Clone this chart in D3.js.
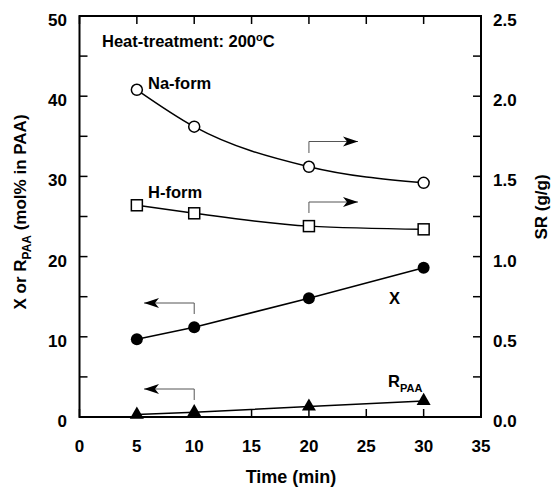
<!DOCTYPE html>
<html><head><meta charset="utf-8">
<script src="https://cdn.jsdelivr.net/npm/d3@7"></script>
<style>body{margin:0;background:#fff}text{font-family:Arial,"Liberation Sans",sans-serif;font-weight:bold;fill:#000}</style>
</head><body><svg id="c" width="556" height="487"></svg>
<script>
const time = [5, 10, 20, 30];
const naFormSR = [2.04, 1.81, 1.56, 1.46];
const hFormSR = [1.32, 1.27, 1.19, 1.17];
const xValues = [9.7, 11.2, 14.8, 18.6];
const rPAA = [0.3, 0.6, 1.3, 2.0];
const xTicks = [0, 5, 10, 15, 20, 25, 30, 35];
const yLeftTicks = [0, 10, 20, 30, 40, 50];
const yRightTicks = [0, 0.5, 1.0, 1.5, 2.0, 2.5];

const svg = d3.select("#c");
const L = 79.5, R = 481, T = 16, B = 417;
const x = d3.scaleLinear().domain([0, 35]).range([L, R]);
const yL = d3.scaleLinear().domain([0, 50]).range([B, T]);
const yR = d3.scaleLinear().domain([0, 2.5]).range([B, T]);

// ticks (inside)
const tl = 8;
const g = svg.append("g").attr("stroke", "#000").attr("stroke-width", 1.5);
d3.range(0, 35.1, 5).forEach(v => {
  g.append("line").attr("x1", x(v)).attr("x2", x(v)).attr("y1", B).attr("y2", B - tl);
  g.append("line").attr("x1", x(v)).attr("x2", x(v)).attr("y1", T).attr("y2", T + tl);
});
d3.range(0, 50.1, 5).forEach(v => {
  g.append("line").attr("x1", L).attr("x2", L + tl).attr("y1", yL(v)).attr("y2", yL(v));
});
d3.range(0, 2.51, 0.25).forEach(v => {
  g.append("line").attr("x1", R).attr("x2", R - tl).attr("y1", yR(v)).attr("y2", yR(v));
});
svg.append("rect").attr("x", L).attr("y", T).attr("width", R - L).attr("height", B - T)
  .attr("fill", "none").attr("stroke", "#000").attr("stroke-width", 2);

// tick labels
const fs = 17;
svg.selectAll(".xt").data(xTicks).join("text").attr("x", d => x(d)).attr("y", 452)
  .attr("text-anchor", "middle").attr("font-size", fs).text(d => d);
svg.selectAll(".yl").data(yLeftTicks).join("text").attr("x", 67).attr("y", d => yL(d) + 10)
  .attr("text-anchor", "end").attr("font-size", fs).text(d => d);
svg.selectAll(".yr").data(yRightTicks).join("text").attr("x", 493).attr("y", d => yR(d) + 10)
  .attr("text-anchor", "start").attr("font-size", fs).text(d => d.toFixed(1));

// axis titles
svg.append("text").attr("x", 291).attr("y", 483).attr("text-anchor", "middle")
  .attr("font-size", 18).text("Time (min)");
const yt = svg.append("text").attr("transform", `translate(26,212) rotate(-90)`)
  .attr("text-anchor", "middle").attr("font-size", 17);
yt.append("tspan").text("X or R");
yt.append("tspan").attr("font-size", 12).attr("dy", 5).text("PAA");
yt.append("tspan").attr("dy", -5).text(" (mol% in PAA)");
svg.append("text").attr("transform", `translate(547,207) rotate(-90)`)
  .attr("text-anchor", "middle").attr("font-size", 17).text("SR (g/g)");

// lines
const lineR = d3.line().x((d, i) => x(time[i])).y(d => yR(d)).curve(d3.curveMonotoneX);
const lineL = d3.line().x((d, i) => x(time[i])).y(d => yL(d));
svg.append("path").attr("d", lineR(naFormSR)).attr("fill", "none").attr("stroke", "#000").attr("stroke-width", 1.5);
svg.append("path").attr("d", lineR(hFormSR)).attr("fill", "none").attr("stroke", "#000").attr("stroke-width", 1.5);
svg.append("path").attr("d", lineL(xValues)).attr("fill", "none").attr("stroke", "#000").attr("stroke-width", 1.5);
svg.append("path").attr("d", lineL(rPAA)).attr("fill", "none").attr("stroke", "#000").attr("stroke-width", 1.5);

// markers
svg.selectAll(".na").data(naFormSR).join("circle").attr("cx", (d, i) => x(time[i])).attr("cy", d => yR(d))
  .attr("r", 5.5).attr("fill", "#fff").attr("stroke", "#000").attr("stroke-width", 1.5);
svg.selectAll(".hf").data(hFormSR).join("rect").attr("x", (d, i) => x(time[i]) - 5.5).attr("y", d => yR(d) - 5.5)
  .attr("width", 11).attr("height", 11).attr("fill", "#fff").attr("stroke", "#000").attr("stroke-width", 1.5);
svg.selectAll(".xv").data(xValues).join("circle").attr("cx", (d, i) => x(time[i])).attr("cy", d => yL(d))
  .attr("r", 6).attr("fill", "#000");
const tri = d3.symbol().type(d3.symbolTriangle).size(85);
svg.selectAll(".rp").data(rPAA).join("path").attr("d", tri)
  .attr("transform", (d, i) => `translate(${x(time[i])},${yL(d)})`).attr("fill", "#000");

// annotation arrows
function arrow(xs, yStart, yTurn, xEnd) {
  svg.append("path").attr("d", `M${xs},${yStart}V${yTurn}H${xEnd}`).attr("fill", "none")
    .attr("stroke", "#555").attr("stroke-width", 1);
  const dir = xEnd > xs ? 1 : -1;
  svg.append("path").attr("d", `M${xEnd},${yTurn}L${xEnd - dir * 15},${yTurn - 5}L${xEnd - dir * 11},${yTurn}L${xEnd - dir * 15},${yTurn + 5}Z`)
    .attr("fill", "#000");
}
arrow(x(20), 153, 141.5, 358);
arrow(x(20), 213, 202, 358);
arrow(x(10), 314, 303, 144);
arrow(x(10), 400, 389, 144);

// texts
const afs = 16.5;
const ht = svg.append("text").attr("x", 102).attr("y", 47).attr("font-size", afs);
ht.append("tspan").text("Heat-treatment: 200");
ht.append("tspan").attr("font-size", 11).attr("dy", -6).text("o");
ht.append("tspan").attr("dy", 6).text("C");
svg.append("text").attr("x", 148).attr("y", 89).attr("font-size", afs).text("Na-form");
svg.append("text").attr("x", 148).attr("y", 198).attr("font-size", afs).text("H-form");
svg.append("text").attr("x", 389).attr("y", 304).attr("font-size", afs).text("X");
const rt = svg.append("text").attr("x", 388).attr("y", 387).attr("font-size", afs);
rt.append("tspan").text("R");
rt.append("tspan").attr("font-size", 11).attr("dy", 5).text("PAA");
</script></body></html>
